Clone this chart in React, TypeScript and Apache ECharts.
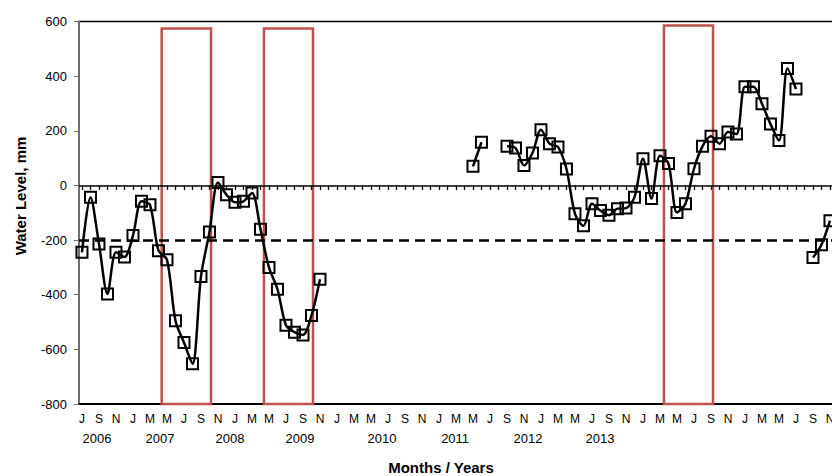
import React, { useEffect, useRef } from "react";
import * as echarts from "echarts";

// Monthly water level (mm); index 0 = July 2006, last index = November 2013.
const startMonth = 6; // July, 0-based
const waterLevel: (number | null)[] = [
  -245, -43, -214, -397, -245, -262, -183, -58, -71, -239, -272, -495,
  -575, -653, -333, -170, 11, -34, -62, -58, -28, -160, -300, -380,
  -512, -537, -547, -476, -343, null, null, null, null, null, null, null,
  null, null, null, null, null, null, null, null, null, null, 70, 158,
  null, null, 143, 137, 73, 119, 204, 153, 141, 60, -104, -148,
  -67, -92, -109, -85, -83, -43, 98, -48, 109, 80, -99, -67,
  61, 143, 180, 153, 196, 188, 361, 361, 299, 225, 164, 428,
  353, null, -264, -217, -129,
];

const monthInitials = ["J", "F", "M", "A", "M", "J", "J", "A", "S", "O", "N", "D"];

// Year captions and the month index each one sits under.
const yearLabels = ["2006", "2007", "2008", "2009", "2010", "2011", "2012", "2013"];
const yearLabelAt = [1.77, 9.18, 17.41, 25.65, 35.3, 43.9, 52.47, 60.94];

const yTicks = [-800, -600, -400, -200, 0, 200, 400, 600];
const referenceLevel = -200;

// Highlighted periods: [start month index, end month index, top level].
const highlightPeriods: [number, number, number][] = [
  [9.38, 15.18, 574],
  [21.41, 27.18, 574],
  [68.47, 74.24, 585],
];

const FONT = "'Liberation Sans', Arial, sans-serif";

export default function App() {
  const ref = useRef<HTMLDivElement>(null);

  useEffect(() => {
    if (!ref.current) return;
    const chart = echarts.init(ref.current, null, { renderer: "svg" });

    const points = waterLevel.map((v, i) => [i, v]);
    const monthTicks = waterLevel.map((_, i) => i);
    const monthLabelTicks = monthTicks.filter((i) => i % 2 === 0);

    const xMin = -0.35;
    const pxPerMonth = 8.5;
    const gridLeft = 79;
    const gridTop = 21.5;
    const gridHeight = 382.5;
    const gridWidth = 755;
    const xMax = xMin + gridWidth / pxPerMonth;

    const yMin = yTicks[0];
    const yMax = yTicks[yTicks.length - 1];
    // Month ticks hanging below the zero line.
    const tickDepth = (4.5 * (yMax - yMin)) / gridHeight;

    const baseX = {
      type: "value" as const,
      min: xMin,
      max: xMax,
      splitLine: { show: false },
    };

    chart.setOption({
      animation: false,
      backgroundColor: "#fff",
      grid: {
        left: gridLeft,
        top: gridTop,
        width: gridWidth,
        height: gridHeight,
        outerBoundsMode: "none",
        containLabel: false,
        show: true,
        borderColor: "#000",
        borderWidth: 1.5,
        backgroundColor: "transparent",
      },
      xAxis: [
        {
          ...baseX,
          position: "bottom",
          axisLine: { onZero: false, lineStyle: { color: "#000", width: 2 } },
          axisTick: { show: false },
          axisLabel: {
            customValues: monthLabelTicks,
            formatter: (v: number) => monthInitials[(startMonth + Math.round(v)) % 12],
            color: "#000",
            fontSize: 12,
            fontFamily: FONT,
            margin: 9,
          },
        },
        {
          ...baseX,
          position: "bottom",
          offset: 20,
          axisLine: { show: false, onZero: false },
          axisTick: { show: false },
          axisLabel: {
            customValues: yearLabelAt,
            formatter: (v: number) => {
              const k = yearLabelAt.findIndex((p) => Math.abs(p - v) < 1e-6);
              return k >= 0 ? yearLabels[k] : "";
            },
            color: "#000",
            fontSize: 13,
            fontFamily: FONT,
            margin: 8,
          },
        },
      ],
      yAxis: {
        type: "value",
        min: yMin,
        max: yMax,
        interval: 200,
        splitLine: { show: false },
        axisLine: { show: true, onZero: false, lineStyle: { color: "#6e6e6e", width: 2 } },
        axisTick: { show: true, length: 5, lineStyle: { color: "#6e6e6e", width: 1 } },
        axisLabel: { color: "#000", fontSize: 13, fontFamily: FONT, margin: 12 },
      },
      graphic: [
        {
          type: "text",
          x: 20,
          y: 196,
          rotation: Math.PI / 2,
          style: {
            text: "Water Level, mm",
            font: `bold 15px ${FONT}`,
            fill: "#000",
            textAlign: "center",
            textVerticalAlign: "middle",
          },
        },
        {
          type: "text",
          x: 441,
          y: 467,
          style: {
            text: "Months / Years",
            font: `bold 15px ${FONT}`,
            fill: "#000",
            textAlign: "center",
            textVerticalAlign: "middle",
          },
        },
      ],
      series: [
        {
          // zero line with a small tick for every month
          type: "line",
          xAxisIndex: 0,
          yAxisIndex: 0,
          data: [],
          silent: true,
          markLine: {
            silent: true,
            symbol: "none",
            label: { show: false },
            lineStyle: { color: "#000", width: 1.3, type: "solid" },
            data: [
              [
                { coord: [xMin, 0], lineStyle: { width: 1.6 } },
                { coord: [xMax, 0] },
              ],
              ...monthTicks.map((i) => [{ coord: [i, 0] }, { coord: [i, -tickDepth] }]),
            ],
          },
        },
        {
          type: "line",
          xAxisIndex: 0,
          yAxisIndex: 0,
          data: points,
          connectNulls: false,
          smooth: 0.3,
          symbol: "rect",
          symbolSize: 11,
          lineStyle: { color: "#000", width: 2.5 },
          itemStyle: { color: "rgba(0,0,0,0)", borderColor: "#000", borderWidth: 2 },
          markLine: {
            silent: true,
            symbol: "none",
            label: { show: false },
            lineStyle: { color: "#000", width: 2.5, type: [10, 6] },
            data: [{ yAxis: referenceLevel }],
          },
          markArea: {
            silent: true,
            itemStyle: {
              color: "rgba(0,0,0,0)",
              borderColor: "#c0504d",
              borderWidth: 2.5,
            },
            data: highlightPeriods.map(([a, b, top]) => [
              { xAxis: a, yAxis: top },
              { xAxis: b, yAxis: yMin },
            ]),
          },
        },
      ],
    });

    return () => chart.dispose();
  }, []);

  return (
    <div
      ref={ref}
      style={{ position: "fixed", left: 0, top: 0, width: 832, height: 476, background: "#fff" }}
    />
  );
}
